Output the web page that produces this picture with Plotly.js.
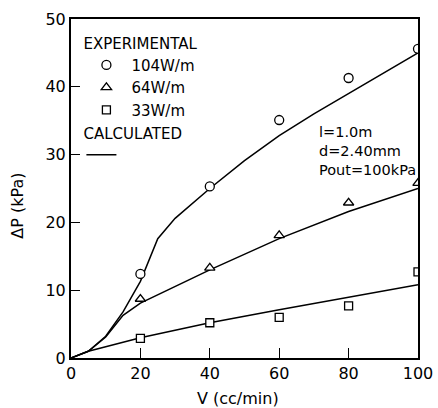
<!DOCTYPE html>
<html><head><meta charset="utf-8">
<script src="https://cdn.plot.ly/plotly-3.0.1.min.js"></script>
<style>html,body{margin:0;padding:0;background:#fff}#chart{width:438px;height:408px}</style>
</head><body><div id="chart"></div>
<script>
// Experimental data
const V = [20, 40, 60, 80, 100];
const p104 = [12.4, 25.3, 35.1, 41.3, 45.6];
const p64 = [8.7, 13.3, 18.1, 22.9, 25.8];
const p33 = [2.9, 5.2, 6.0, 7.7, 12.7];
// Calculated curves
const calc104V = [0, 5, 10, 15, 20, 25, 30, 40, 50, 60, 70, 80, 90, 100];
const calc104 = [0, 1.0, 3.2, 6.8, 11.3, 17.6, 20.6, 25.0, 29.1, 32.8, 36.0, 39.0, 42.0, 45.0];
const calc64V = [0, 5, 10, 15, 20, 40, 60, 80, 100];
const calc64 = [0, 1.0, 3.1, 6.3, 8.1, 13.0, 17.6, 21.6, 25.0];
const calc33V = [0, 5, 20, 40, 60, 80, 100];
const calc33 = [0, 1.0, 3.0, 5.2, 7.1, 8.9, 10.8];
const names = ['104W/m', '64W/m', '33W/m'];
const xTicks = [0, 20, 40, 60, 80, 100];
const yTicks = [0, 10, 20, 30, 40, 50];

const F = 'DejaVu Sans, sans-serif';
const lineStyle = {color: '#000', width: 1.5};
const traces = [
  {x: calc104V, y: calc104, mode: 'lines', line: lineStyle, name: ' ', legend: 'legend2', showlegend: true},
  {x: calc64V, y: calc64, mode: 'lines', line: lineStyle, showlegend: false},
  {x: calc33V, y: calc33, mode: 'lines', line: lineStyle, showlegend: false},
  {x: V, y: p104, mode: 'markers', name: names[0], marker: {symbol: 'circle', size: 9, color: '#fff', line: {color: '#000', width: 1.3}}},
  {x: V, y: p64, mode: 'markers', name: names[1], marker: {symbol: 'triangle-up', size: 9, color: '#fff', line: {color: '#000', width: 1.3}}},
  {x: V, y: p33, mode: 'markers', name: names[2], marker: {symbol: 'square', size: 8, color: '#fff', line: {color: '#000', width: 1.3}}}
];
const layout = {
  width: 438, height: 408,
  margin: {l: 71, r: 20, t: 19, b: 50},
  paper_bgcolor: '#fff', plot_bgcolor: '#fff',
  font: {family: F, color: '#000', size: 16},
  xaxis: {range: [0, 100], tickvals: xTicks, showgrid: false, zeroline: false,
    showline: true, mirror: true, linecolor: '#000', linewidth: 2,
    ticks: 'inside', ticklen: 10, tickwidth: 1.3, tickcolor: '#000',
    tickfont: {family: F, size: 16}},
  yaxis: {range: [0, 50], tickvals: yTicks, showgrid: false, zeroline: false,
    showline: true, mirror: true, linecolor: '#000', linewidth: 2,
    ticks: 'inside', ticklen: 9, tickwidth: 1.3, tickcolor: '#000',
    tickfont: {family: F, size: 16}},
  showlegend: true,
  legend: {x: 0.03, y: 0.97, xanchor: 'left', yanchor: 'top', bgcolor: 'rgba(0,0,0,0)',
    font: {family: F, size: 15}, title: {text: 'EXPERIMENTAL', font: {family: F, size: 15}},
    tracegroupgap: 0, itemwidth: 40},
  legend2: {x: 0.03, y: 0.705, xanchor: 'left', yanchor: 'top', bgcolor: 'rgba(0,0,0,0)',
    font: {family: F, size: 15}, title: {text: 'CALCULATED', font: {family: F, size: 15}},
    itemwidth: 30},
  annotations: [
    {xref: 'paper', yref: 'paper', x: -0.155, xanchor: 'center', y: 0.45, text: 'ΔP (kPa)', textangle: -90, showarrow: false, font: {family: F, size: 16}},
    {xref: 'paper', yref: 'paper', x: 0.48, y: -0.118, yanchor: 'middle', text: 'V (cc/min)', showarrow: false, font: {family: F, size: 16}},
    {xref: 'paper', yref: 'paper', x: 0.71, y: 0.695, xanchor: 'left', align: 'left', yanchor: 'top',
      text: 'l=1.0m<br>d=2.40mm<br>Pout=100kPa', showarrow: false, font: {family: F, size: 14.5}}
  ]
};
Plotly.newPlot('chart', traces, layout, {displayModeBar: false, staticPlot: true});
</script></body></html>
